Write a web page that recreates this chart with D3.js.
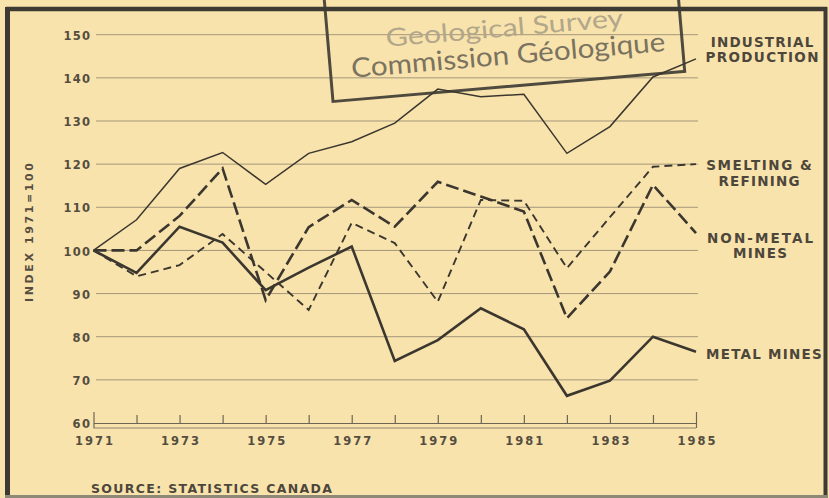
<!DOCTYPE html>
<html>
<head>
<meta charset="utf-8">
<script src="https://cdn.jsdelivr.net/npm/d3@7"></script>
<style>
  html, body { margin: 0; padding: 0; background: #f9e3ad; }
  svg { display: block; }
  text { font-family: "DejaVu Sans", "Liberation Sans", Arial, sans-serif; font-weight: bold; fill: #4d473b; }
</style>
</head>
<body>
<script>
// ---- data ----
const years = [1971, 1972, 1973, 1974, 1975, 1976, 1977, 1978, 1979, 1980, 1981, 1982, 1983, 1984, 1985];
const labelYears = [1971, 1973, 1975, 1977, 1979, 1981, 1983, 1985];
const yTicks = [60, 70, 80, 90, 100, 110, 120, 130, 140, 150];
const industrialProduction = [100, 107.1, 119, 122.7, 115.3, 122.5, 125.2, 129.5, 137.4, 135.6, 136.2, 122.5, 128.7, 140.2, 144.4];
const smeltingRefining = [100, 94, 96.6, 103.8, 95, 86.2, 106.4, 101.7, 88.1, 111.7, 111.5, 95.9, 107.7, 119.4, 120];
const nonMetalMines = [100, 100, 108, 119, 88.5, 105.4, 111.7, 105.5, 115.9, 112.5, 109, 84.3, 95.1, 115.2, 104];
const metalMines = [100, 94.8, 105.5, 101.8, 90.8, 96, 100.9, 74.4, 79.2, 86.6, 81.7, 66.3, 69.8, 80, 76.5];
const yTitle = "INDEX 1971=100";
const sourceText = "SOURCE: STATISTICS CANADA";
const stampLine1 = "Geological Survey";
const stampLine2 = "Commission Géologique";

const W = 829, H = 498;
const ink = "#3b372f";
const svg = d3.select("body").append("svg").attr("width", W).attr("height", H);

svg.append("rect").attr("width", W).attr("height", H).attr("fill", "#f9e3ad");

const x = d3.scaleLinear().domain([1971, 1985]).range([93.5, 696]);
const y = d3.scaleLinear().domain([60, 150]).range([423, 34.7]);

// gridlines
svg.append("g").selectAll("line").data(yTicks.filter(d => d > 60)).join("line")
  .attr("x1", 96).attr("x2", 698)
  .attr("y1", d => y(d)).attr("y2", d => y(d))
  .attr("stroke", "#a3977a").attr("stroke-width", 1);

// y tick labels
const yAxis = svg.append("g").attr("transform", `translate(${x(1971)},0)`)
  .call(d3.axisLeft(y).tickValues(yTicks).tickSize(0).tickPadding(3.5));
yAxis.select(".domain").remove();
yAxis.selectAll("text")
  .attr("dy", "0.4em")
  .style("font-size", "11.5px")
  .style("fill", "#544d40")
  .attr("textLength", d => String(d).length * 9 - 0.5)
  .attr("lengthAdjust", "spacing");

// x axis
const xAxis = svg.append("g").attr("transform", `translate(0,${y(60)})`)
  .call(d3.axisBottom(x).tickValues(years).tickSizeInner(-8).tickSizeOuter(0).tickPadding(14)
    .tickFormat(d => labelYears.includes(d) ? String(d) : ""));
xAxis.select(".domain").attr("stroke", "#6e6654").attr("stroke-width", 1.2);
xAxis.selectAll(".tick line").attr("stroke", "#6e6654").attr("stroke-width", 1.2)
  .attr("y1", d => (d === 1971 || d === 1985) ? 5 : 0)
  .attr("y2", d => (d === 1971 || d === 1985) ? -11 : -8);
xAxis.selectAll("text")
  .style("font-size", "11.5px")
  .style("fill", "#544d40")
  .attr("textLength", d => labelYears.includes(d) ? 38 : null)
  .attr("lengthAdjust", "spacing");
// lower rule of the axis bar
svg.append("line")
  .attr("x1", x(1971)).attr("x2", x(1985))
  .attr("y1", y(60) + 5).attr("y2", y(60) + 5)
  .attr("stroke", "#8f8670").attr("stroke-width", 1.2);

// y title
svg.append("text")
  .attr("transform", "translate(33,232.5) rotate(-90)")
  .attr("text-anchor", "middle")
  .style("font-size", "11px")
  .style("fill", "#544d40")
  .attr("textLength", 139).attr("lengthAdjust", "spacing")
  .text(yTitle);

// stamp
const stamp = svg.append("g").attr("transform", "translate(333,101.5) rotate(-4.9)");
stamp.append("rect")
  .attr("x", 0).attr("y", -140).attr("width", 353).attr("height", 140)
  .attr("fill", "none").attr("stroke", "#4f4a3e").attr("stroke-width", 3);
stamp.append("text")
  .attr("x", 58).attr("y", -50)
  .style("font-family", "Lato, 'Open Sans', sans-serif")
  .style("font-weight", "400")
  .style("font-size", "25px")
  .style("fill", "#b2a78a")
  .attr("textLength", 238).attr("lengthAdjust", "spacingAndGlyphs")
  .text(stampLine1);
stamp.append("text")
  .attr("x", 21).attr("y", -22)
  .style("font-family", "Lato, 'Open Sans', sans-serif")
  .style("font-weight", "400")
  .style("font-size", "27px")
  .style("fill", "#7a735f")
  .attr("textLength", 315).attr("lengthAdjust", "spacingAndGlyphs")
  .text(stampLine2);

// series lines
const line = d3.line().x((d, i) => x(years[i])).y(d => y(d));
const series = [
  { values: industrialProduction, width: 1.5, dash: null },
  { values: smeltingRefining, width: 1.9, dash: "8,5" },
  { values: nonMetalMines, width: 2.6, dash: "13,5" },
  { values: metalMines, width: 2.6, dash: null }
];
svg.append("g").selectAll("path").data(series).join("path")
  .attr("d", d => line(d.values))
  .attr("fill", "none")
  .attr("stroke", ink)
  .attr("stroke-width", d => d.width)
  .attr("stroke-dasharray", d => d.dash)
  .attr("stroke-linejoin", "miter");

// series labels
const labels = [
  { lines: ["INDUSTRIAL", "PRODUCTION"], cx: 762, base: 46.7, widths: [102.6, 113] },
  { lines: ["SMELTING &", "REFINING"], cx: 759, base: 170, widths: [105.7, 81] },
  { lines: ["NON-METAL", "MINES"], cx: 760, base: 242.7, widths: [106, 54] },
];
labels.forEach(l => {
  l.lines.forEach((t, i) => {
    svg.append("text")
      .attr("x", l.cx).attr("y", l.base + i * 15.5)
      .attr("text-anchor", "middle")
      .style("font-size", "13.5px")
      .attr("textLength", l.widths[i]).attr("lengthAdjust", "spacing")
      .text(t);
  });
});
svg.append("text")
  .attr("x", 706).attr("y", 359.3)
  .style("font-size", "13.5px")
  .attr("textLength", 115.7).attr("lengthAdjust", "spacing")
  .text("METAL MINES");

// source
svg.append("text")
  .attr("x", 91).attr("y", 492.7)
  .style("font-size", "12.5px")
  .attr("textLength", 241).attr("lengthAdjust", "spacing")
  .text(sourceText);

// frame
svg.append("line").attr("x1", 6).attr("x2", 827).attr("y1", 9).attr("y2", 9)
  .attr("stroke", "#3c3a32").attr("stroke-width", 4.5);
svg.append("line").attr("x1", 7.5).attr("x2", 7.5).attr("y1", 7).attr("y2", 498)
  .attr("stroke", "#3c3a32").attr("stroke-width", 5);
svg.append("line").attr("x1", 825.5).attr("x2", 825.5).attr("y1", 7).attr("y2", 498)
  .attr("stroke", "#3c3a32").attr("stroke-width", 4);
svg.append("line").attr("x1", 5).attr("x2", 828).attr("y1", 496.5).attr("y2", 496.5)
  .attr("stroke", "#8e8876").attr("stroke-width", 3);
</script>
</body>
</html>
